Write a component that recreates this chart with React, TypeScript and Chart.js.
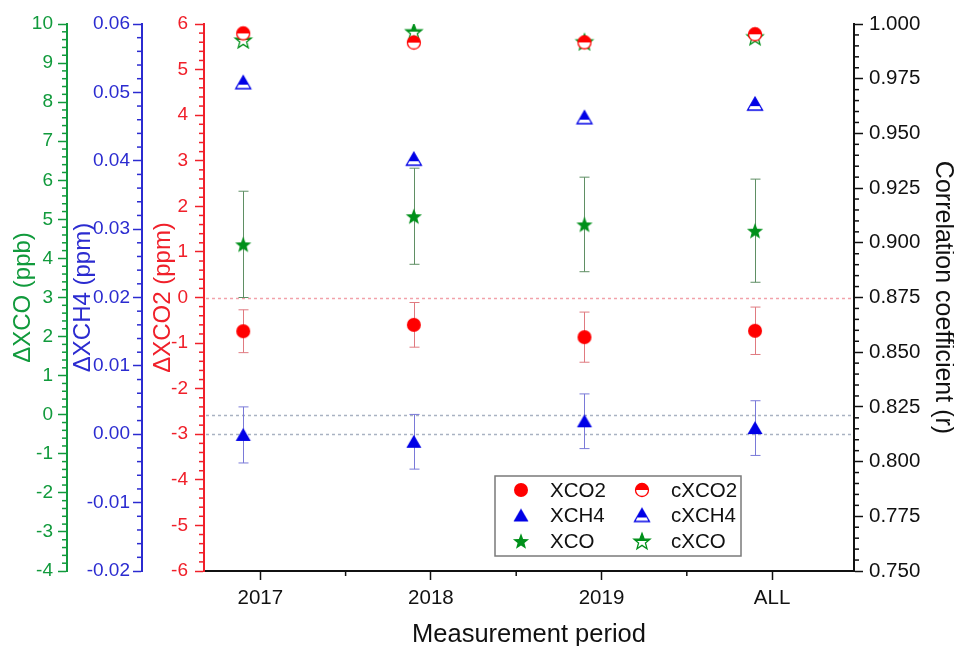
import React, { useEffect, useRef } from 'react';
import { Chart, registerables } from 'chart.js';

Chart.register(...registerables);

// ---------- data ----------
const categories = ['2017', '2018', '2019', 'ALL'];

const dXCO2 = [-0.74, -0.6, -0.87, -0.73];
const dXCO2Err = [0.47, 0.49, 0.55, 0.52];

const dXCH4 = [-0.0001, -0.0011, 0.0019, 0.0009];
const dXCH4Err = [0.0041, 0.004, 0.004, 0.004];

const dXCO = [4.36, 5.08, 4.87, 4.71];
const dXCOErr = [1.36, 1.23, 1.21, 1.32];

const rXCO2 = [0.9957, 0.9915, 0.9916, 0.9953];
const rXCH4 = [0.9732, 0.9382, 0.9572, 0.9634];
const rXCO = [0.9927, 0.9965, 0.9919, 0.9942];

const xcoTicks = [-4, -3, -2, -1, 0, 1, 2, 3, 4, 5, 6, 7, 8, 9, 10];
const ch4Ticks = [-0.02, -0.01, 0, 0.01, 0.02, 0.03, 0.04, 0.05, 0.06];
const co2Ticks = [-6, -5, -4, -3, -2, -1, 0, 1, 2, 3, 4, 5, 6];
const rTicks = [0.75, 0.775, 0.8, 0.825, 0.85, 0.875, 0.9, 0.925, 0.95, 0.975, 1.0];

// ---------- style ----------
const FONT = "'Liberation Sans', Arial, Helvetica, sans-serif";
const GREEN_AXIS = '#119a3c';
const BLUE_AXIS = '#2b2bd0';
const RED_AXIS = '#f0202a';
const RED = '#ff0000';
const BLUE = '#0000e6';
const GREEN = '#00901a';
const MARKER_OFFSET = -0.1;

const minorSteps: Record<string, number> = { x: 0.5, yCO: 0.2, yCH4: 0.002, yCO2: 0.2, yR: 0.005 };

function makeMarker(shape: string, color: string, half: boolean): HTMLCanvasElement {
  const size = 22;
  const c = document.createElement('canvas');
  c.width = size;
  c.height = size;
  const ctx = c.getContext('2d') as CanvasRenderingContext2D;
  const cx = size / 2;
  const cy = size / 2;
  const path = () => {
    ctx.beginPath();
    if (shape === 'circle') {
      ctx.arc(cx, cy, half ? 6.5 : 7, 0, Math.PI * 2);
    } else if (shape === 'triangle') {
      ctx.moveTo(cx, cy - 7);
      ctx.lineTo(cx + 7.5, cy + 6);
      ctx.lineTo(cx - 7.5, cy + 6);
      ctx.closePath();
    } else {
      const R = 8.5;
      const r = 3.6;
      for (let k = 0; k < 10; k++) {
        const a = -Math.PI / 2 + (k * Math.PI) / 5;
        const rad = k % 2 === 0 ? R : r;
        const px = cx + rad * Math.cos(a);
        const py = cy + 0.8 + rad * Math.sin(a);
        if (k === 0) ctx.moveTo(px, py);
        else ctx.lineTo(px, py);
      }
      ctx.closePath();
    }
  };
  if (half) {
    path();
    ctx.fillStyle = '#ffffff';
    ctx.fill();
    ctx.save();
    ctx.beginPath();
    const clipY = shape === 'triangle' ? cy + 2 : cy;
    ctx.rect(0, 0, size, clipY);
    ctx.clip();
    path();
    ctx.fillStyle = color;
    ctx.fill();
    ctx.restore();
    path();
    ctx.strokeStyle = color;
    ctx.lineWidth = 1.3;
    ctx.stroke();
  } else {
    path();
    ctx.fillStyle = color;
    ctx.fill();
  }
  return c;
}

const errorBarPlugin = {
  id: 'errorBars',
  beforeDatasetsDraw(chart: any) {
    const ctx = chart.ctx;
    chart.data.datasets.forEach((ds: any, i: number) => {
      if (!ds.errors) return;
      const meta = chart.getDatasetMeta(i);
      const yScale = chart.scales[ds.yAxisID];
      ctx.save();
      ctx.strokeStyle = ds.errorColor;
      ctx.lineWidth = 1;
      meta.data.forEach((pt: any, j: number) => {
        const v = ds.data[j].y;
        const e = ds.errors[j];
        const yT = yScale.getPixelForValue(v + e);
        const yB = yScale.getPixelForValue(v - e);
        const x = Math.round(pt.x) + 0.5;
        ctx.beginPath();
        ctx.moveTo(x, yT);
        ctx.lineTo(x, yB);
        ctx.moveTo(x - 5, yT);
        ctx.lineTo(x + 5, yT);
        ctx.moveTo(x - 5, yB);
        ctx.lineTo(x + 5, yB);
        ctx.stroke();
      });
      ctx.restore();
    });
  },
};

const refLinePlugin = {
  id: 'refLines',
  beforeDatasetsDraw(chart: any) {
    const { ctx, chartArea } = chart;
    const lines = [
      { scale: 'yCO2', color: '#f2a2aa' },
      { scale: 'yCO', color: '#a9b2c2' },
      { scale: 'yCH4', color: '#a9b2c2' },
    ];
    ctx.save();
    ctx.lineWidth = 1.5;
    ctx.setLineDash([3, 3]);
    lines.forEach((l) => {
      const y = Math.round(chart.scales[l.scale].getPixelForValue(0)) + 0.5;
      ctx.strokeStyle = l.color;
      ctx.beginPath();
      ctx.moveTo(chartArea.left + 2, y);
      ctx.lineTo(chartArea.right, y);
      ctx.stroke();
    });
    ctx.restore();
  },
};

const minorTickPlugin = {
  id: 'minorTicks',
  afterDraw(chart: any) {
    const ctx = chart.ctx;
    ctx.save();
    ctx.lineWidth = 1.5;
    Object.keys(minorSteps).forEach((id) => {
      const scale = chart.scales[id];
      if (!scale) return;
      const step = minorSteps[id];
      const majors = scale.ticks.map((t: any) => t.value);
      const color = scale.options.border.color;
      ctx.strokeStyle = color;
      const start = Math.ceil(scale.min / step - 1e-9);
      const end = Math.floor(scale.max / step + 1e-9);
      for (let k = start; k <= end; k++) {
        const v = k * step;
        if (majors.some((m: number) => Math.abs(m - v) < step * 0.01)) continue;
        const p = scale.getPixelForValue(v);
        ctx.beginPath();
        if (scale.position === 'left') {
          ctx.moveTo(scale.right, p);
          ctx.lineTo(scale.right - 5, p);
        } else if (scale.position === 'right') {
          ctx.moveTo(scale.left, p);
          ctx.lineTo(scale.left + 5, p);
        } else {
          ctx.moveTo(p, scale.top);
          ctx.lineTo(p, scale.top + 5);
        }
        ctx.stroke();
      }
    });
    ctx.restore();
  },
};

const legendPlugin = {
  id: 'customLegend',
  afterDraw(chart: any) {
    const { ctx, chartArea } = chart;
    const left = chartArea.left + 291;
    const top = chartArea.bottom - 95;
    const w = 246;
    const h = 80;
    ctx.save();
    ctx.fillStyle = '#ffffff';
    ctx.fillRect(left, top, w, h);
    ctx.strokeStyle = '#7a7a7a';
    ctx.lineWidth = 1.5;
    ctx.strokeRect(left, top, w, h);
    ctx.font = `20.5px ${FONT}`;
    ctx.fillStyle = '#111111';
    ctx.textBaseline = 'middle';
    ctx.textAlign = 'left';
    const ds = chart.data.datasets;
    ds.forEach((d: any, i: number) => {
      const col = Math.floor(i / 3);
      const row = i % 3;
      const mx = left + 26 + col * 121;
      const tx = left + 55 + col * 121;
      const y = top + 14 + row * 25.5;
      const img = d.pointStyle as HTMLCanvasElement;
      ctx.drawImage(img, mx - img.width / 2, y - img.height / 2);
      ctx.fillText(d.label, tx, y + 1);
    });
    ctx.restore();
  },
};

function yAxis(o: any) {
  return {
    type: 'linear',
    position: o.position,
    weight: o.weight,
    min: o.min,
    max: o.max,
    afterBuildTicks: (scale: any) => {
      scale.ticks = o.ticks.map((v: number) => ({ value: v }));
    },
    afterFit: (scale: any) => {
      scale.width = o.width;
    },
    ticks: {
      color: o.color,
      font: { family: FONT, size: o.fontSize },
      padding: o.pad,
      autoSkip: false,
      callback: (v: any) => Number(v).toFixed(o.decimals),
    },
    grid: {
      display: true,
      drawOnChartArea: false,
      drawTicks: true,
      tickLength: 9,
      tickColor: o.color,
      tickWidth: 1.5,
    },
    border: { display: true, color: o.color, width: 2 },
    title: {
      display: true,
      text: o.title,
      color: o.color,
      font: { family: FONT, size: o.titleSize || 24 },
      padding: o.titlePad,
    },
  };
}

export default function App() {
  const ref = useRef<HTMLCanvasElement | null>(null);

  useEffect(() => {
    if (!ref.current) return;
    const mk = {
      xco2: makeMarker('circle', RED, false),
      xch4: makeMarker('triangle', BLUE, false),
      xco: makeMarker('star', GREEN, false),
      cxco2: makeMarker('circle', RED, true),
      cxch4: makeMarker('triangle', BLUE, true),
      cxco: makeMarker('star', GREEN, true),
    };
    const pts = (arr: number[]) => arr.map((v, i) => ({ x: i + 1 + MARKER_OFFSET, y: v }));
    const base = { pointRadius: 7, pointHoverRadius: 7, showLine: false };

    const chart = new Chart(ref.current, {
      type: 'scatter',
      data: {
        datasets: [
          { ...base, label: 'XCO2', data: pts(dXCO2), yAxisID: 'yCO2', pointStyle: mk.xco2, errors: dXCO2Err, errorColor: '#e07a80' } as any,
          { ...base, label: 'XCH4', data: pts(dXCH4), yAxisID: 'yCH4', pointStyle: mk.xch4, errors: dXCH4Err, errorColor: '#7a7ad8' } as any,
          { ...base, label: 'XCO', data: pts(dXCO), yAxisID: 'yCO', pointStyle: mk.xco, errors: dXCOErr, errorColor: '#5f8f64' } as any,
          { ...base, label: 'cXCO2', data: pts(rXCO2), yAxisID: 'yR', pointStyle: mk.cxco2 } as any,
          { ...base, label: 'cXCH4', data: pts(rXCH4), yAxisID: 'yR', pointStyle: mk.cxch4 } as any,
          { ...base, label: 'cXCO', data: pts(rXCO), yAxisID: 'yR', pointStyle: mk.cxco } as any,
        ],
      },
      options: {
        responsive: false,
        animation: false,
        devicePixelRatio: 1,
        layout: { padding: { top: 24, left: 0, right: 0, bottom: 0 } },
        plugins: { legend: { display: false }, tooltip: { enabled: false } },
        events: [],
        scales: {
          x: {
            type: 'linear',
            position: 'bottom',
            min: 0.67,
            max: 4.48,
            afterBuildTicks: (scale: any) => {
              scale.ticks = categories.map((_, i) => ({ value: i + 1 }));
            },
            afterFit: (scale: any) => {
              scale.height = 75;
            },
            ticks: {
              color: '#111111',
              font: { family: FONT, size: 20.5 },
              padding: 6,
              autoSkip: false,
              maxRotation: 0,
              callback: (v: any) => categories[Math.round(Number(v)) - 1] ?? '',
            },
            grid: { display: true, drawOnChartArea: false, drawTicks: true, tickLength: 9, tickColor: '#111111', tickWidth: 1.5 },
            border: { display: true, color: '#111111', width: 2 },
            title: {
              display: true,
              text: 'Measurement period',
              color: '#111111',
              font: { family: FONT, size: 25.5 },
              padding: { top: 0, bottom: -4 },
            },
          },
          yCO: yAxis({ position: 'left', weight: 3, min: -4, max: 10, ticks: xcoTicks, width: 67, color: GREEN_AXIS, fontSize: 19, pad: 5, decimals: 0, title: 'ΔXCO (ppb)', titlePad: 8.6 }),
          yCH4: yAxis({ position: 'left', weight: 2, min: -0.02, max: 0.06, ticks: ch4Ticks, width: 75, color: BLUE_AXIS, fontSize: 19, pad: 3, decimals: 2, title: 'ΔXCH4 (ppm)', titlePad: 1.6 }),
          yCO2: yAxis({ position: 'left', weight: 1, min: -6, max: 6, ticks: co2Ticks, width: 62, color: RED_AXIS, fontSize: 19, pad: 7, decimals: 0, title: 'ΔXCO2 (ppm)', titlePad: 6.6 }),
          yR: yAxis({ position: 'right', weight: 1, min: 0.75, max: 1.0, ticks: rTicks, width: 100, color: '#111111', fontSize: 20.5, pad: 6, decimals: 3, title: 'Correlation coefficient (r)', titlePad: -3.5, titleSize: 25 }),
        },
      } as any,
      plugins: [refLinePlugin, errorBarPlugin, minorTickPlugin, legendPlugin],
    });
    return () => chart.destroy();
  }, []);

  return (
    <div style={{ position: 'absolute', left: 0, top: 0, width: 954, height: 646, background: '#ffffff' }}>
      <canvas ref={ref} width={954} height={646} style={{ display: 'block' }} />
    </div>
  );
}
